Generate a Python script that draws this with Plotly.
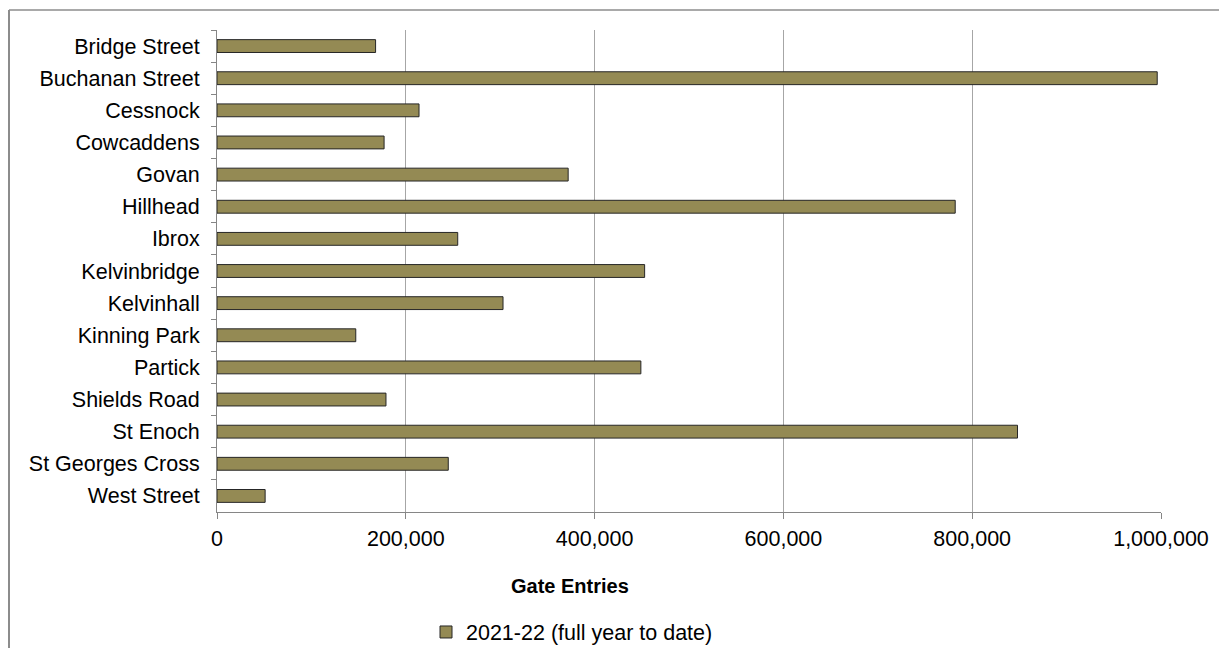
import plotly.graph_objects as go

# Station gate entries, 2021-22 (full year to date)
stations = [
    "Bridge Street", "Buchanan Street", "Cessnock", "Cowcaddens", "Govan",
    "Hillhead", "Ibrox", "Kelvinbridge", "Kelvinhall", "Kinning Park",
    "Partick", "Shields Road", "St Enoch", "St Georges Cross", "West Street",
]
entries_2021_22 = [
    168000, 996000, 214000, 177000, 372000,
    782000, 255000, 453000, 303000, 147000,
    449000, 179000, 848000, 245000, 51000,
]
series_name = "2021-22 (full year to date)"
x_ticks = [0, 200000, 400000, 600000, 800000, 1000000]
x_title = "Gate Entries"

W, H = 1219, 648
L, R, T, B = 217, 58, 30, 136
PW, PH = W - L - R, H - T - B


def px_x(p):
    return (p - L) / PW


def px_y(p):
    return (H - B - p) / PH


FONT = "Liberation Sans, Arial, sans-serif"

fig = go.Figure()
fig.add_trace(go.Bar(
    y=stations,
    x=entries_2021_22,
    orientation="h",
    name=series_name,
    width=0.4,
    marker=dict(color="#948A54", line=dict(color="#262626", width=1)),
    showlegend=True,
))

fig.update_layout(
    width=W, height=H,
    margin=dict(l=L, r=R, t=T, b=B, autoexpand=False),
    paper_bgcolor="white",
    plot_bgcolor="white",
    font=dict(family=FONT, size=21, color="#000000"),
    bargap=0.6,
    xaxis=dict(
        range=[0, 1000000],
        tickvals=x_ticks,
        tickformat=",",
        showgrid=True,
        gridcolor="#A6A6A6",
        gridwidth=1,
        zeroline=False,
        showline=True,
        linecolor="#868686",
        linewidth=1,
        ticks="outside",
        ticklen=6,
        tickcolor="#868686",
        tickfont=dict(family=FONT, size=21.5, color="#000000"),
        ticklabelstandoff=1,
        automargin=False,
    ),
    yaxis=dict(
        autorange="reversed",
        showgrid=False,
        zeroline=False,
        showline=True,
        linecolor="#868686",
        linewidth=1,
        ticks="outside",
        tickson="boundaries",
        ticklen=5,
        tickcolor="#868686",
        tickfont=dict(family=FONT, size=21.5, color="#000000"),
        ticklabelstandoff=12,
        automargin=False,
    ),
    legend=dict(
        orientation="h",
        x=px_x(426), xanchor="left",
        y=px_y(632), yanchor="middle",
        font=dict(family=FONT, size=21.5, color="#000000"),
        itemwidth=30,
        bgcolor="rgba(0,0,0,0)",
    ),
    annotations=[dict(
        text="<b>" + x_title + "</b>",
        xref="paper", yref="paper",
        x=px_x(570), y=px_y(586),
        xanchor="center", yanchor="middle",
        showarrow=False,
        font=dict(family=FONT, size=20, color="#000000"),
    )],
    shapes=[
        # chart area frame (left and top edges)
        dict(type="line", xref="paper", yref="paper",
             x0=px_x(9), x1=px_x(9), y0=px_y(10), y1=px_y(H + 5),
             line=dict(color="#8C8C8C", width=2)),
        dict(type="line", xref="paper", yref="paper",
             x0=px_x(9), x1=px_x(W + 5), y0=px_y(10), y1=px_y(10),
             line=dict(color="#8C8C8C", width=1.5)),
    ],
)

fig.write_html("out.html")
